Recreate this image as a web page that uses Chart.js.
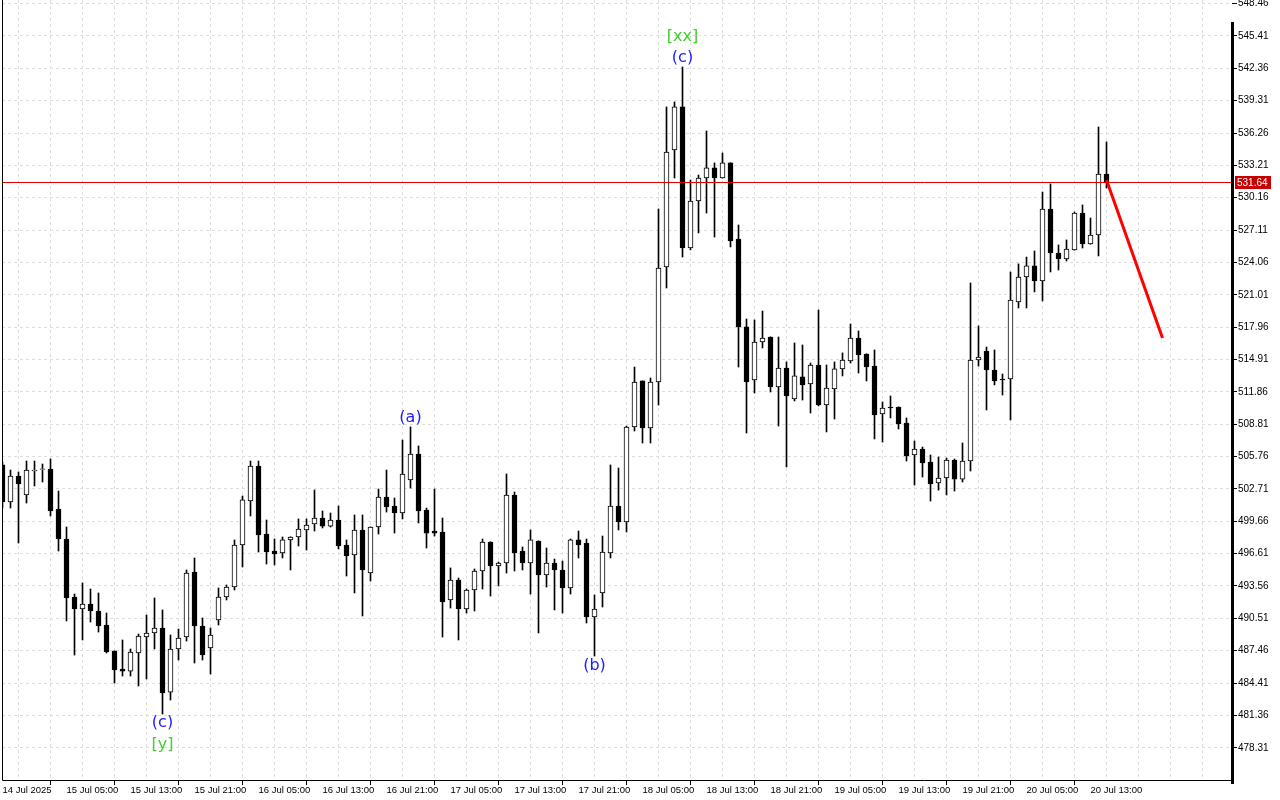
<!DOCTYPE html>
<html>
<head>
<meta charset="utf-8">
<script src="https://cdn.jsdelivr.net/npm/chart.js@4"></script>
<style>
  html, body { margin: 0; padding: 0; background: #fff; }
  canvas { display: block; }
</style>
</head>
<body>
<canvas id="chart" width="1280" height="800"></canvas>
<script>
// hourly candles, 14 Jul 21:00 -> 20 Jul 15:00
const xTickLabels = ['14 Jul 2025', '15 Jul 05:00', '15 Jul 13:00', '15 Jul 21:00', '16 Jul 05:00',
  '16 Jul 13:00', '16 Jul 21:00', '17 Jul 05:00', '17 Jul 13:00', '17 Jul 21:00', '18 Jul 05:00',
  '18 Jul 13:00', '18 Jul 21:00', '19 Jul 05:00', '19 Jul 13:00', '19 Jul 21:00', '20 Jul 05:00', '20 Jul 13:00'];

const yTickValues = [478.31, 481.36, 484.41, 487.46, 490.51, 493.56, 496.61, 499.66, 502.71, 505.76,
  508.81, 511.86, 514.91, 517.96, 521.01, 524.06, 527.11, 530.16, 533.21, 536.26, 539.31, 542.36,
  545.41, 548.46];

const opens = [504.97, 501.48, 503.93, 502.14, 504.40, 504.55, 504.59, 500.82, 497.99, 492.52,
  491.39, 491.86, 491.20, 489.88, 487.43, 485.73, 485.54, 487.24, 488.75, 489.13,
  489.60, 483.56, 487.62, 488.75, 494.88, 489.79, 487.71, 490.35, 492.52, 493.46,
  497.42, 501.57, 504.87, 498.46, 496.86, 496.67, 497.90, 498.18, 498.84, 499.40,
  499.97, 499.21, 499.78, 497.42, 496.48, 498.84, 494.78, 499.12, 501.95, 501.10,
  500.44, 503.55, 506.00, 500.72, 498.74, 498.65, 492.24, 494.12, 491.39, 493.18,
  494.97, 497.71, 495.44, 495.73, 502.14, 496.86, 495.73, 497.80, 494.60, 495.73,
  495.07, 493.37, 497.90, 497.61, 490.64, 492.90, 496.67, 501.10, 499.59, 508.55,
  512.89, 508.45, 512.79, 523.63, 534.66, 538.72, 525.42, 529.85, 532.02, 532.97,
  532.02, 533.44, 526.27, 517.98, 512.98, 516.56, 517.03, 512.32, 514.11, 511.19,
  513.27, 512.61, 514.39, 510.62, 512.13, 514.02, 514.77, 516.94, 515.43, 514.30,
  509.77, 510.43, 510.43, 508.92, 505.91, 506.47, 505.25, 503.27, 503.74, 505.44,
  503.64, 505.34, 514.86, 515.71, 513.92, 513.07, 513.07, 520.33, 522.69, 523.73,
  522.31, 529.10, 524.95, 524.39, 525.24, 528.72, 525.80, 526.65, 532.40];

const highs = [505.25, 504.49, 504.31, 505.34, 505.34, 505.06, 505.53, 502.51, 499.12, 492.80,
  493.84, 493.28, 492.90, 491.01, 487.45, 488.47, 487.62, 489.03, 490.82, 492.43,
  491.30, 488.94, 489.50, 495.07, 496.20, 490.54, 489.60, 493.37, 493.65, 497.90,
  502.04, 505.34, 505.34, 499.78, 497.99, 498.18, 498.20, 499.88, 499.88, 502.61,
  500.63, 500.44, 501.10, 497.90, 500.25, 500.25, 499.14, 502.70, 504.49, 501.85,
  507.32, 508.55, 506.76, 500.91, 502.70, 499.97, 495.26, 494.31, 493.28, 495.16,
  497.99, 497.73, 495.82, 504.12, 502.42, 497.24, 498.84, 497.82, 497.14, 496.10,
  495.91, 497.99, 498.74, 497.99, 492.71, 498.27, 504.97, 504.68, 508.64, 514.20,
  512.90, 513.17, 529.10, 538.72, 539.19, 542.49, 531.83, 532.30, 536.45, 533.44,
  534.38, 533.46, 527.59, 518.73, 518.64, 519.48, 517.05, 517.03, 514.68, 516.47,
  516.28, 514.58, 519.58, 514.39, 514.68, 515.53, 518.26, 517.60, 515.45, 515.81,
  510.90, 511.47, 510.45, 509.40, 507.23, 506.66, 505.91, 505.72, 505.62, 505.53,
  507.04, 522.12, 518.07, 516.09, 515.81, 513.54, 523.16, 523.92, 524.57, 525.14,
  530.70, 531.46, 525.71, 526.18, 528.82, 529.48, 528.25, 536.83, 535.42];

const lows = [500.91, 500.91, 497.61, 501.38, 502.99, 503.36, 500.16, 496.86, 490.26, 487.05,
  488.47, 490.16, 489.22, 487.24, 484.41, 485.07, 485.07, 484.13, 484.79, 487.62,
  481.49, 482.81, 486.58, 488.37, 486.30, 486.58, 485.26, 489.88, 492.24, 493.18,
  495.35, 500.16, 496.76, 495.63, 495.54, 496.20, 495.07, 497.33, 496.95, 498.74,
  499.03, 499.12, 497.05, 494.50, 492.90, 490.73, 494.03, 498.46, 500.53, 498.55,
  499.88, 502.79, 499.50, 497.14, 498.27, 488.75, 491.48, 488.47, 491.01, 491.20,
  493.28, 492.61, 493.56, 494.78, 494.97, 495.07, 492.80, 489.13, 493.46, 491.30,
  491.01, 492.80, 496.20, 490.07, 486.96, 491.58, 496.20, 498.84, 498.65, 508.17,
  507.04, 507.04, 510.62, 521.65, 532.02, 524.57, 525.24, 526.84, 528.72, 526.46,
  532.00, 525.52, 514.20, 507.98, 511.75, 516.00, 511.85, 508.64, 504.78, 511.00,
  511.09, 509.87, 510.53, 508.08, 509.30, 513.36, 514.58, 513.64, 512.89, 507.42,
  507.13, 509.40, 508.36, 505.34, 503.08, 503.83, 501.57, 502.60, 502.14, 502.51,
  503.36, 504.40, 514.30, 510.15, 512.51, 511.56, 509.21, 519.77, 519.77, 521.28,
  520.43, 523.16, 523.35, 524.20, 525.22, 525.42, 525.78, 524.67, 531.08];

const closes = [501.48, 503.93, 503.17, 504.49, 504.49, 504.60, 500.63, 497.99, 492.43, 491.39,
  491.86, 491.20, 489.79, 487.34, 485.64, 485.54, 487.33, 488.84, 489.13, 489.60,
  483.47, 487.62, 488.66, 494.78, 489.79, 487.05, 488.94, 492.52, 493.46, 497.42,
  501.67, 504.87, 498.37, 496.76, 496.58, 497.90, 498.18, 498.93, 499.31, 499.97,
  499.21, 499.78, 497.33, 496.39, 498.84, 495.07, 499.12, 501.95, 501.01, 500.44,
  504.12, 506.00, 500.63, 498.55, 498.55, 492.05, 494.12, 491.39, 493.18, 494.97,
  497.71, 495.44, 495.73, 502.14, 496.67, 495.73, 497.90, 494.60, 495.73, 495.07,
  493.37, 497.90, 497.42, 490.64, 491.39, 496.76, 501.10, 499.59, 508.55, 512.79,
  508.45, 512.79, 523.54, 534.47, 538.72, 525.42, 529.85, 532.02, 532.97, 532.02,
  533.44, 526.08, 517.98, 512.79, 516.56, 516.94, 512.32, 514.11, 511.47, 513.36,
  512.51, 514.39, 510.62, 512.22, 514.02, 514.86, 516.94, 515.34, 514.20, 509.68,
  510.34, 510.34, 508.83, 505.81, 506.47, 505.15, 503.17, 503.74, 505.44, 503.64,
  505.34, 514.86, 515.15, 513.92, 512.89, 512.98, 520.52, 522.69, 523.73, 522.31,
  529.10, 524.95, 524.39, 525.33, 528.72, 525.80, 526.65, 532.40, 531.64];

const lastPrice = 531.64;

// forecast arrow (candle index, price)
const forecastX = [138, 145];
const forecastY = [531.83, 516.94];

// wave marks (candle index, price of text centre)
const waveText = ['(a)', '(b)', '(c)', '[y]', '[xx]', '(c)'];
const waveX = [51, 74, 20, 20, 85, 85];
const waveY = [509.40, 486.02, 480.64, 478.57, 545.32, 543.34];
const waveDegree = ['minor', 'minor', 'minor', 'major', 'major', 'minor'];

const X_MIN = -0.0625, X_MAX = 153.6875;
const Y_MIN = 475.27, Y_MAX = 548.80;
const degreeColor = { minor: '#2020ff', major: '#44cc33' };

const idx = opens.map((_, i) => i);
const bodies = idx.map(i => ({ x: i, y: [opens[i], closes[i]] }));
const wicks = idx.map(i => ({ x: i, y: [lows[i], highs[i]] }));
const bodyColors = idx.map(i => closes[i] >= opens[i] ? '#ffffff' : '#000000');

const overlay = {
  id: 'overlay',
  afterDatasetsDraw(chart) {
    const { ctx, chartArea: a, scales: { x, y } } = chart;
    ctx.save();
    // last price line
    const py = Math.round(y.getPixelForValue(lastPrice)) + 0.5;
    ctx.strokeStyle = '#e00000';
    ctx.lineWidth = 1;
    ctx.beginPath();
    ctx.moveTo(a.left, py);
    ctx.lineTo(a.right, py);
    ctx.stroke();
    ctx.font = '16px "DejaVu Sans"';
    ctx.textAlign = 'center';
    ctx.textBaseline = 'middle';
    waveText.forEach((t, i) => {
      ctx.fillStyle = degreeColor[waveDegree[i]];
      ctx.fillText(t, x.getPixelForValue(waveX[i]), y.getPixelForValue(waveY[i]));
    });
    ctx.restore();
  },
  afterDraw(chart) {
    const { ctx, chartArea: a, scales: { y } } = chart;
    ctx.save();
    ctx.strokeStyle = '#000';
    ctx.lineWidth = 1;
    ctx.beginPath();
    ctx.moveTo(a.left + 0.5, a.top);
    ctx.lineTo(a.left + 0.5, a.bottom + 0.5);
    ctx.lineTo(a.right, a.bottom + 0.5);
    ctx.stroke();
    ctx.lineWidth = 3;
    ctx.beginPath();
    ctx.moveTo(a.right + 0.5, 22);
    ctx.lineTo(a.right + 0.5, a.bottom + 4);
    ctx.stroke();
    // last price tag
    const py = Math.round(y.getPixelForValue(lastPrice));
    ctx.fillStyle = '#c80000';
    ctx.fillRect(a.right + 3, py - 6, 36, 13);
    ctx.fillStyle = '#fff';
    ctx.font = '10px "Liberation Sans"';
    ctx.textAlign = 'left';
    ctx.textBaseline = 'middle';
    ctx.fillText(lastPrice.toFixed(2), a.right + 5, py + 1);
    ctx.restore();
  }
};

new Chart(document.getElementById('chart'), {
  type: 'bar',
  data: {
    datasets: [
      {
        type: 'line',
        data: forecastX.map((v, i) => ({ x: v, y: forecastY[i] })),
        borderColor: '#ff0000',
        borderWidth: 3,
        pointRadius: 0,
        order: 0
      },
      {
        data: bodies,
        backgroundColor: bodyColors,
        borderColor: '#000',
        borderWidth: 1,
        borderSkipped: false,
        barThickness: 5,
        grouped: false,
        order: 2
      },
      {
        data: wicks,
        backgroundColor: '#000',
        barThickness: 1,
        grouped: false,
        order: 3
      }
    ]
  },
  options: {
    responsive: false,
    animation: false,
    layout: { padding: { left: 2, top: 0, right: 0, bottom: 0 } },
    plugins: { legend: { display: false }, tooltip: { enabled: false } },
    scales: {
      x: {
        type: 'linear',
        min: X_MIN,
        max: X_MAX,
        offset: false,
        afterFit: s => { s.height = 20; s.paddingLeft = 0; s.paddingRight = 0; },
        afterBuildTicks: s => {
          const t = [];
          for (let v = 0; v <= X_MAX; v += 4) t.push({ value: v });
          s.ticks = t;
        },
        grid: {
          color: c => c.tick && c.tick.value === 0 ? 'rgba(0,0,0,0)' : '#dedede',
          tickColor: c => c.tick && c.tick.value % 8 === 0 && xTickLabels[c.tick.value / 8] ? '#000' : 'rgba(0,0,0,0)',
          tickLength: 5,
          tickBorderDash: []
        },
        border: { display: false, dash: [3, 3] },
        ticks: {
          autoSkip: false,
          maxRotation: 0,
          minRotation: 0,
          align: 'start',
          padding: 0,
          color: '#000',
          font: { family: 'Liberation Sans', size: 9.5 },
          callback: v => (v % 8 === 0 && xTickLabels[v / 8]) ? xTickLabels[v / 8] : ''
        }
      },
      y: {
        position: 'right',
        min: Y_MIN,
        max: Y_MAX,
        afterFit: s => { s.width = 48; s.paddingTop = 0; s.paddingBottom = 0; },
        afterBuildTicks: s => { s.ticks = yTickValues.map(v => ({ value: v })); },
        grid: {
          color: '#dedede',
          tickColor: '#000',
          tickLength: 5,
          tickBorderDash: []
        },
        border: { display: false, dash: [3, 3] },
        ticks: {
          padding: 1,
          color: '#000',
          font: { family: 'Liberation Sans', size: 10 },
          callback: v => v.toFixed(2)
        }
      }
    }
  },
  plugins: [overlay]
});
</script>
</body>
</html>
